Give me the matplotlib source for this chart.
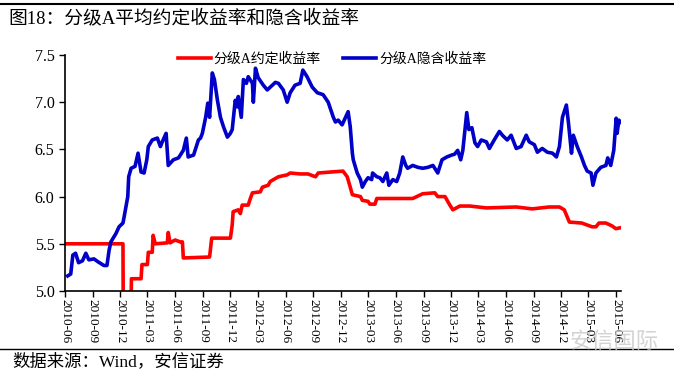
import matplotlib
matplotlib.use("Agg")
import matplotlib.pyplot as plt
import pandas as pd

plt.rcParams['font.family'] = ['Liberation Serif', 'Noto Sans CJK SC', 'DejaVu Sans']

title = "图18：分级A平均约定收益率和隐含收益率"
source = "数据来源：Wind，安信证券"
label_fixed = "分级A约定收益率"
label_implied = "分级A隐含收益率"

implied_dates = [
    "2010-06-10", "2010-06-20", "2010-06-27", "2010-07-06", "2010-07-16", "2010-07-29",
    "2010-08-09", "2010-08-19", "2010-09-05", "2010-09-18", "2010-10-08", "2010-10-18",
    "2010-10-25", "2010-10-31", "2010-11-17", "2010-11-27", "2010-12-10", "2010-12-13",
    "2010-12-26", "2010-12-29", "2011-01-06", "2011-01-19", "2011-01-29", "2011-02-08",
    "2011-02-18", "2011-02-27", "2011-03-04", "2011-03-17", "2011-04-03", "2011-04-13",
    "2011-04-22", "2011-05-02", "2011-05-09", "2011-05-26", "2011-06-12", "2011-06-28",
    "2011-07-08", "2011-07-14", "2011-08-01", "2011-08-17", "2011-08-24", "2011-08-30",
    "2011-09-10", "2011-09-17", "2011-09-23", "2011-10-02", "2011-10-09", "2011-10-19",
    "2011-10-29", "2011-11-08", "2011-11-21", "2011-12-01", "2011-12-07", "2011-12-17",
    "2011-12-24", "2011-12-27", "2012-01-06", "2012-01-13", "2012-01-23", "2012-01-29",
    "2012-02-12", "2012-02-15", "2012-02-22", "2012-03-02", "2012-03-19", "2012-04-01",
    "2012-04-11", "2012-04-28", "2012-05-08", "2012-05-24", "2012-06-06", "2012-06-16",
    "2012-07-02", "2012-07-19", "2012-07-28", "2012-08-11", "2012-08-28", "2012-09-14",
    "2012-10-03", "2012-10-20", "2012-11-06", "2012-11-13", "2012-11-22", "2012-12-05",
    "2012-12-15", "2012-12-25", "2013-01-01", "2013-01-08", "2013-01-11", "2013-01-24",
    "2013-02-04", "2013-02-10", "2013-02-20", "2013-03-01", "2013-03-13", "2013-03-16",
    "2013-03-30", "2013-04-09", "2013-04-19", "2013-05-02", "2013-05-09", "2013-05-22",
    "2013-06-04", "2013-06-14", "2013-06-24", "2013-07-04", "2013-07-10", "2013-07-27",
    "2013-08-13", "2013-08-29", "2013-09-15", "2013-10-02", "2013-10-18", "2013-11-01",
    "2013-11-17", "2013-12-03", "2013-12-13", "2013-12-23", "2014-01-02", "2014-01-09",
    "2014-01-16", "2014-01-22", "2014-01-29", "2014-02-08", "2014-02-18", "2014-02-27",
    "2014-03-11", "2014-03-28", "2014-04-07", "2014-04-23", "2014-05-10", "2014-05-20",
    "2014-06-05", "2014-06-18", "2014-07-05", "2014-07-21", "2014-08-07", "2014-08-17",
    "2014-09-03", "2014-09-13", "2014-09-29", "2014-10-16", "2014-11-02", "2014-11-15",
    "2014-11-25", "2014-12-05", "2014-12-18", "2014-12-25", "2015-01-04", "2015-01-10",
    "2015-01-23", "2015-02-06", "2015-02-16", "2015-02-25", "2015-03-10", "2015-03-16",
    "2015-03-26", "2015-04-11", "2015-04-28", "2015-05-04", "2015-05-14", "2015-05-24",
    "2015-06-01", "2015-06-04", "2015-06-10", "2015-06-15",
]
implied_values = [
    5.16, 5.18, 5.38, 5.40, 5.30, 5.32,
    5.40, 5.33, 5.34, 5.31, 5.27, 5.27,
    5.43, 5.52, 5.61, 5.68, 5.72, 5.77,
    6.00, 6.21, 6.30, 6.32, 6.46, 6.26,
    6.25, 6.39, 6.53, 6.60, 6.62, 6.53,
    6.60, 6.67, 6.33, 6.39, 6.41, 6.49,
    6.62, 6.42, 6.44, 6.60, 6.62, 6.67,
    6.84, 6.99, 6.84, 7.31, 7.24, 7.02,
    6.84, 6.74, 6.63, 6.67, 6.71, 7.02,
    6.95, 7.06, 6.84, 7.24, 7.20, 7.27,
    7.20, 7.00, 7.36, 7.26, 7.18, 7.13,
    7.16, 7.21, 7.20, 7.13, 7.00, 7.10,
    7.18, 7.20, 7.34, 7.27, 7.16, 7.10,
    7.08, 7.00, 6.84, 6.79, 6.81, 6.76,
    6.83, 6.90, 6.74, 6.46, 6.39, 6.25,
    6.18, 6.10, 6.16, 6.20, 6.18, 6.25,
    6.21, 6.20, 6.16, 6.25, 6.12, 6.18,
    6.16, 6.25, 6.42, 6.33, 6.30, 6.33,
    6.31, 6.30, 6.31, 6.33, 6.25, 6.39,
    6.42, 6.44, 6.45, 6.49, 6.39, 6.49,
    6.71, 6.89, 6.71, 6.73, 6.57, 6.53,
    6.60, 6.58, 6.51, 6.60, 6.69, 6.65,
    6.60, 6.65, 6.51, 6.53, 6.65, 6.58,
    6.55, 6.47, 6.51, 6.47, 6.46, 6.42,
    6.53, 6.84, 6.97, 6.78, 6.46, 6.65,
    6.53, 6.42, 6.33, 6.27, 6.25, 6.12,
    6.25, 6.31, 6.33, 6.41, 6.33, 6.49,
    6.83, 6.67, 6.81, 6.79,
]

fixed_dates = [
    "2010-06-01", "2010-12-10", "2010-12-11", "2011-01-06", "2011-01-07", "2011-02-08",
    "2011-02-11", "2011-03-01", "2011-03-04", "2011-03-17", "2011-03-20", "2011-03-27",
    "2011-05-06", "2011-05-09", "2011-05-15", "2011-06-01", "2011-06-18", "2011-06-25",
    "2011-06-28", "2011-09-23", "2011-09-30", "2011-12-01", "2011-12-07", "2011-12-10",
    "2011-12-27", "2012-01-03", "2012-01-09", "2012-01-29", "2012-02-05", "2012-02-12",
    "2012-03-09", "2012-03-16", "2012-04-04", "2012-04-11", "2012-05-08", "2012-06-06",
    "2012-06-16", "2012-07-19", "2012-08-14", "2012-09-08", "2012-09-17", "2012-10-27",
    "2012-12-08", "2012-12-22", "2013-01-01", "2013-01-08", "2013-02-04", "2013-02-10",
    "2013-03-01", "2013-03-07", "2013-03-24", "2013-03-30", "2013-07-27", "2013-08-29",
    "2013-10-08", "2013-10-18", "2013-11-11", "2013-11-27", "2013-12-07", "2013-12-30",
    "2014-02-01", "2014-03-28", "2014-07-05", "2014-08-27", "2014-10-22", "2014-11-25",
    "2014-12-11", "2014-12-28", "2015-02-07", "2015-03-13", "2015-03-26", "2015-04-05",
    "2015-04-28", "2015-05-18", "2015-05-31", "2015-06-15",
]
fixed_values = [
    5.50, 5.50, 4.80, 4.80, 5.13, 5.13,
    5.28, 5.28, 5.41, 5.41, 5.59, 5.50,
    5.51, 5.62, 5.51, 5.54, 5.52, 5.52,
    5.35, 5.36, 5.56, 5.56, 5.70, 5.84,
    5.86, 5.82, 5.91, 5.91, 5.98, 6.04,
    6.05, 6.10, 6.12, 6.16, 6.21, 6.23,
    6.25, 6.24, 6.24, 6.21, 6.25, 6.26,
    6.27, 6.21, 6.10, 6.02, 6.00, 5.96,
    5.95, 5.92, 5.92, 5.98, 5.98, 6.03,
    6.04, 6.00, 6.00, 5.91, 5.86, 5.90,
    5.90, 5.88, 5.89, 5.87, 5.89, 5.89,
    5.86, 5.73, 5.72, 5.68, 5.68, 5.72,
    5.72, 5.69, 5.66, 5.67,
]

tick_dates = pd.date_range("2010-06-01", "2015-06-01", freq="3MS")
y_ticks = [5.0, 5.5, 6.0, 6.5, 7.0, 7.5]

fig = plt.figure(figsize=(6.74, 3.74), dpi=100)
ax = fig.add_axes([65/674, 1-291/374, 556/674, 236/374])

ax.plot(pd.to_datetime(fixed_dates), fixed_values, color="#FF0000", lw=2.6,
        label=label_fixed)
ax.plot(pd.to_datetime(implied_dates), implied_values, color="#0000C8", lw=2.6,
        label=label_implied)

ax.set_ylim(5.0, 7.5)
ax.set_yticks(y_ticks)
ax.yaxis.set_major_formatter(matplotlib.ticker.FormatStrFormatter("%.1f"))
ax.set_xlim(pd.Timestamp("2010-06-01"), pd.Timestamp("2015-06-17"))
ax.set_xticks(tick_dates)
ax.set_xticklabels([d.strftime("%Y-%m") for d in tick_dates], rotation=-90,
                   fontsize=9.5)
for lab in ax.get_yticklabels():
    lab.set_fontsize(11.5)
ax.tick_params(axis="both", direction="out", length=4, width=1, color="black")
ax.tick_params(axis="x", pad=2)
for s in ["top", "right"]:
    ax.spines[s].set_visible(False)
for s in ["left", "bottom"]:
    ax.spines[s].set_linewidth(1.2)

ax.legend(loc="upper center", bbox_to_anchor=(0.48, 1.065), ncol=2, frameon=False,
          prop={"family": ["Liberation Serif", "Noto Sans CJK SC"], "size": 10},
          handlelength=2.4, columnspacing=1.6, handletextpad=0.2)

fig.text(0.012, 0.952, title, fontsize=13.5, ha="left", va="center")
fig.text(0.018, 0.033, source, fontsize=12.5, ha="left", va="center")
fig.add_artist(plt.Line2D([0, 1], [0.988, 0.988], color="black", lw=1.5,
                          transform=fig.transFigure))
fig.add_artist(plt.Line2D([0, 1], [0.066, 0.066], color="black", lw=1.0,
                          transform=fig.transFigure))
fig.text(0.845, 0.088, "安信国际", fontsize=16, color="#c8c8c8", alpha=0.8,
         ha="left", va="center", family=["Noto Sans CJK SC"])

fig.savefig("out.png", dpi=100)
